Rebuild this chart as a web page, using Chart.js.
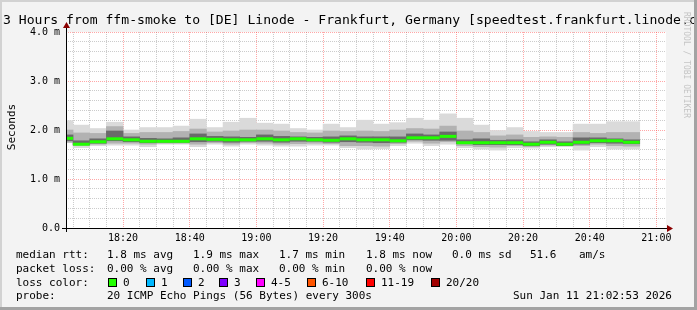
<!DOCTYPE html>
<html>
<head>
<meta charset="utf-8">
<script src="https://cdn.jsdelivr.net/npm/chart.js@4.4.1/dist/chart.umd.min.js"></script>
<style>
  html, body { margin: 0; padding: 0; background: #f3f3f3; }
  canvas { display: block; }
</style>
</head>
<body>
<canvas id="smoke" width="697" height="310"></canvas>
<script>
// 5 minute bins (start time), the first one is only partly inside the window
var binStarts = ['18:00','18:05','18:10','18:15','18:20','18:25','18:30','18:35','18:40','18:45','18:50','18:55',
                 '19:00','19:05','19:10','19:15','19:20','19:25','19:30','19:35','19:40','19:45','19:50','19:55',
                 '20:00','20:05','20:10','20:15','20:20','20:25','20:30','20:35','20:40','20:45','20:50'];
// rtt in ms
var rttMax  = [2.19,2.10,2.03,2.16,2.00,2.05,2.05,2.08,2.22,2.05,2.16,2.24,2.14,2.12,2.03,2.00,2.12,2.05,2.20,2.12,2.15,2.24,2.20,2.33,2.24,2.10,1.99,2.05,1.97,1.95,1.95,2.12,2.12,2.17,2.17];
var rttMin  = [1.74,1.64,1.68,1.69,1.69,1.66,1.71,1.71,1.66,1.71,1.67,1.71,1.69,1.67,1.67,1.69,1.69,1.64,1.61,1.62,1.68,1.73,1.68,1.71,1.64,1.61,1.59,1.64,1.63,1.66,1.66,1.59,1.66,1.61,1.61];
var midHigh = [2.00,1.94,1.93,2.07,1.93,1.95,1.95,1.97,2.02,1.96,1.98,2.00,2.00,1.98,1.95,1.94,1.98,1.97,1.98,1.97,2.00,2.03,2.02,2.08,1.98,1.95,1.88,1.90,1.85,1.86,1.85,1.95,1.93,1.95,1.95];
var midLow  = [1.75,1.68,1.71,1.73,1.73,1.71,1.73,1.73,1.71,1.74,1.71,1.74,1.73,1.71,1.72,1.73,1.72,1.68,1.68,1.67,1.72,1.77,1.73,1.76,1.68,1.66,1.65,1.68,1.66,1.69,1.68,1.68,1.71,1.68,1.67];
var coreHigh= [1.90,1.78,1.82,1.98,1.86,1.83,1.82,1.84,1.92,1.87,1.86,1.85,1.90,1.87,1.86,1.85,1.86,1.88,1.86,1.86,1.86,1.92,1.90,1.96,1.80,1.82,1.79,1.80,1.76,1.80,1.76,1.84,1.84,1.82,1.80];
var coreLow = [1.78,1.70,1.73,1.78,1.76,1.74,1.75,1.75,1.76,1.77,1.75,1.77,1.77,1.75,1.77,1.77,1.75,1.76,1.75,1.74,1.75,1.80,1.79,1.79,1.72,1.70,1.70,1.70,1.68,1.71,1.68,1.71,1.74,1.73,1.72];
var median  = [1.83,1.71,1.76,1.82,1.80,1.77,1.77,1.77,1.82,1.81,1.80,1.80,1.82,1.80,1.82,1.80,1.79,1.82,1.80,1.80,1.78,1.84,1.84,1.87,1.74,1.74,1.74,1.74,1.71,1.75,1.71,1.75,1.78,1.78,1.75];

var xTickLabels = ['18:20','18:40','19:00','19:20','19:40','20:00','20:20','20:40','21:00'];
var yTickValues = [0, 1, 2, 3, 4];
var yTickLabels = ['0.0', '1.0 m', '2.0 m', '3.0 m', '4.0 m'];

var viewStart = '18:02:53';
var viewEnd = '21:02:53';
var binMinutes = 5;

var chartTitle = '3 Hours from ffm-smoke to [DE] Linode - Frankfurt, Germany [speedtest.frankfurt.linode.com]';
var yTitle = 'Seconds';
var rttNames = ['avg', 'max', 'min', 'now'];
var rttStats = [1.8, 1.9, 1.7, 1.8];
var rttSd = 0.0;
var amPerSec = 51.6;
var lossStats = [0.00, 0.00, 0.00, 0.00];
var lossLabels = ['0', '1', '2', '3', '4-5', '6-10', '11-19', '20/20'];
var lossColors = ['#22ff00', '#00b8ff', '#0059ff', '#7e00ff', '#ff00ff', '#ff5500', '#ff0000', '#a10000'];
var probeText = '20 ICMP Echo Pings (56 Bytes) every 300s';
var stampText = 'Sun Jan 11 21:02:53 2026';

// minutes since 18:00
function toMin(s) {
    var p = s.split(':');
    return (+p[0] - 18) * 60 + (+p[1]) + (p[2] ? +p[2] / 60 : 0);
}

function band(lo, hi) {
    var out = [];
    for (var i = 0; i < binStarts.length; i++) {
        out.push({x: toMin(binStarts[i]) + binMinutes / 2, y: [lo[i], hi[i]]});
    }
    return out;
}

var medianPts = [];
for (var i = 0; i < binStarts.length; i++) {
    medianPts.push({x: toMin(binStarts[i]) + binMinutes / 2, y: median[i]});
}

var mono = '"DejaVu Sans Mono", monospace';

var frame = {
    id: 'frame',
    beforeDraw: function (chart) {
        var c = chart.ctx, a = chart.chartArea;
        c.save();
        c.fillStyle = '#f3f3f3';
        c.fillRect(0, 0, chart.width, chart.height);
        c.fillStyle = '#ffffff';
        c.fillRect(a.left, a.top, a.right - a.left, a.bottom - a.top);
        c.restore();
    },
    afterDraw: function (chart) {
        var c = chart.ctx, a = chart.chartArea;
        c.save();

        // axes + arrows
        c.strokeStyle = '#000';
        c.lineWidth = 1;
        c.beginPath();
        c.moveTo(a.left + 0.5, a.bottom + 4);
        c.lineTo(a.left + 0.5, a.top - 6);
        c.moveTo(a.left - 4, a.bottom + 0.5);
        c.lineTo(a.right + 2, a.bottom + 0.5);
        c.stroke();
        c.fillStyle = '#8b0000';
        c.beginPath();
        c.moveTo(a.left + 0.5, a.top - 10);
        c.lineTo(a.left - 3, a.top - 4);
        c.lineTo(a.left + 4, a.top - 4);
        c.closePath();
        c.fill();
        c.beginPath();
        c.moveTo(a.right + 7, a.bottom + 0.5);
        c.lineTo(a.right + 1, a.bottom - 3);
        c.lineTo(a.right + 1, a.bottom + 4);
        c.closePath();
        c.fill();

        c.fillStyle = '#000';
        c.textAlign = 'left';
        c.textBaseline = 'alphabetic';
        c.font = '13.1px ' + mono;
        c.fillText(chartTitle, 3, 24);

        c.save();
        c.translate(15, 127);
        c.rotate(-Math.PI / 2);
        c.font = '11px ' + mono;
        c.textAlign = 'center';
        c.fillText(yTitle, 0, 0);
        c.restore();

        c.save();
        c.translate(684, 12);
        c.rotate(Math.PI / 2);
        c.font = '8px ' + mono;
        c.fillStyle = '#c4c4c4';
        c.fillText('RRDTOOL / TOBI OETIKER', 0, 0);
        c.restore();

        // legend
        c.font = '11px ' + mono;
        var cols = [107, 193, 279, 366];
        c.fillText('median rtt:', 16, 258);
        for (var k = 0; k < rttStats.length; k++) {
            c.fillText(rttStats[k].toFixed(1) + ' ms ' + rttNames[k], cols[k], 258);
        }
        c.fillText(rttSd.toFixed(1) + ' ms sd', 452, 258);
        c.fillText(amPerSec.toFixed(1), 530, 258);
        c.fillText('am/s', 579, 258);

        c.fillText('packet loss:', 16, 272);
        for (k = 0; k < lossStats.length; k++) {
            c.fillText(lossStats[k].toFixed(2) + ' % ' + rttNames[k], cols[k], 272);
        }

        c.fillText('loss color:', 16, 286);
        var boxX = [108, 146, 183, 219, 256, 307, 366, 431];
        for (k = 0; k < lossLabels.length; k++) {
            c.fillStyle = lossColors[k];
            c.fillRect(boxX[k], 278, 8, 8);
            c.strokeStyle = '#000';
            c.strokeRect(boxX[k] + 0.5, 278.5, 8, 8);
            c.fillStyle = '#000';
            c.fillText(lossLabels[k], boxX[k] + 15, 286);
        }

        c.fillText('probe:', 16, 299);
        c.fillText(probeText, 107, 299);
        c.fillText(stampText, 513, 299);

        // 3d frame
        c.fillStyle = '#d2d2d2';
        c.fillRect(0, 0, chart.width, 2);
        c.fillRect(0, 0, 2, chart.height);
        c.fillStyle = '#a3a3a3';
        c.fillRect(0, chart.height - 3, chart.width, 3);
        c.fillRect(chart.width - 3, 0, 3, chart.height);
        c.restore();
    }
};

var ctx = document.getElementById('smoke').getContext('2d');
var chart = new Chart(ctx, {
    type: 'bar',
    data: {
        datasets: [{
            label: 'smoke outer',
            data: band(rttMin, rttMax),
            backgroundColor: '#dadada',
            order: 4
        }, {
            label: 'smoke mid',
            data: band(midLow, midHigh),
            backgroundColor: '#b2b2b2',
            order: 3
        }, {
            label: 'smoke core',
            data: band(coreLow, coreHigh),
            backgroundColor: '#6a6a6a',
            order: 2
        }, {
            type: 'line',
            label: 'median rtt',
            data: medianPts,
            showLine: false,
            pointStyle: 'line',
            pointRadius: 8.33,
            pointHoverRadius: 8.33,
            pointBorderWidth: 3,
            pointHoverBorderWidth: 3,
            pointBorderColor: lossColors[0],
            order: 1
        }]
    },
    options: {
        responsive: false,
        animation: false,
        devicePixelRatio: 1,
        layout: { padding: { top: 32, right: 31, left: 0, bottom: 0 } },
        datasets: {
            bar: { grouped: false, barPercentage: 1, categoryPercentage: 1, borderWidth: 0, clip: 0 },
            line: { clip: 0 }
        },
        plugins: { legend: { display: false }, tooltip: { enabled: false } },
        scales: {
            x: {
                type: 'linear',
                min: toMin(viewStart),
                max: toMin(viewEnd),
                offset: false,
                z: 1,
                afterBuildTicks: function (scale) {
                    var t = [];
                    for (var m = binMinutes; m <= toMin(xTickLabels[xTickLabels.length - 1]); m += binMinutes) {
                        t.push({value: m});
                    }
                    scale.ticks = t;
                },
                afterFit: function (scale) { scale.height = 82; },
                grid: {
                    offset: false,
                    drawTicks: false,
                    color: function (ctx) {
                        if (!ctx.tick) return 'rgba(0,0,0,0.2)';
                        var lbl = ctx.tick.label;
                        return lbl ? 'rgba(255,60,60,0.45)' : 'rgba(0,0,0,0.2)';
                    }
                },
                border: { display: false, dash: [1, 1] },
                ticks: {
                    autoSkip: false,
                    maxRotation: 0,
                    padding: 4,
                    color: '#000',
                    font: { family: mono, size: 10 },
                    callback: function (v) {
                        for (var j = 0; j < xTickLabels.length; j++) {
                            if (Math.abs(toMin(xTickLabels[j]) - v) < 0.01) return xTickLabels[j];
                        }
                        return '';
                    }
                }
            },
            y: {
                min: 0,
                max: 4,
                z: 1,
                afterBuildTicks: function (scale) {
                    var t = [];
                    for (var j = 0; j <= 20; j++) t.push({value: j * 0.2});
                    scale.ticks = t;
                },
                afterFit: function (scale) { scale.width = 66; },
                grid: {
                    drawTicks: false,
                    color: function (ctx) {
                        if (!ctx.tick) return 'rgba(0,0,0,0.2)';
                        return ctx.tick.label ? 'rgba(255,60,60,0.45)' : 'rgba(0,0,0,0.2)';
                    }
                },
                border: { display: false, dash: [1, 1] },
                ticks: {
                    autoSkip: false,
                    padding: 6,
                    color: '#000',
                    font: { family: mono, size: 10 },
                    callback: function (v) {
                        for (var j = 0; j < yTickValues.length; j++) {
                            if (Math.abs(yTickValues[j] - v) < 1e-6) return yTickLabels[j];
                        }
                        return '';
                    }
                }
            }
        }
    },
    plugins: [frame]
});
</script>
</body>
</html>
